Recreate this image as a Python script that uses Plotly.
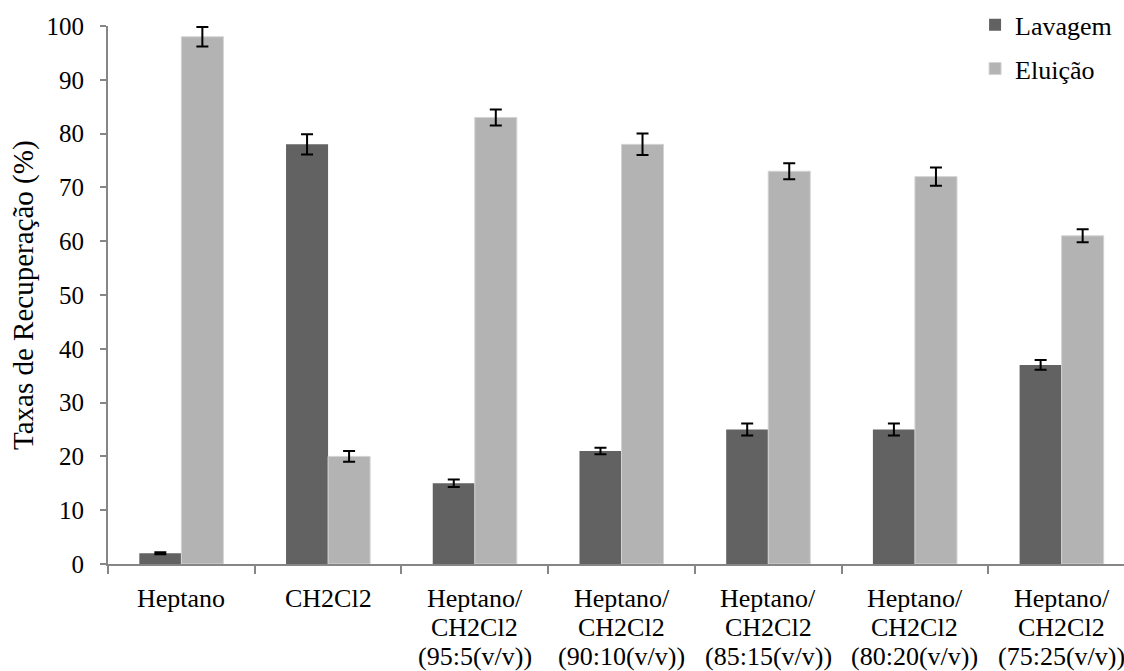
import plotly.graph_objects as go

# Category names, each split into the lines shown under the axis
label_lines = [
    ["Heptano"],
    ["CH2Cl2"],
    ["Heptano/", "CH2Cl2", "(95:5(v/v))"],
    ["Heptano/", "CH2Cl2", "(90:10(v/v))"],
    ["Heptano/", "CH2Cl2", "(85:15(v/v))"],
    ["Heptano/", "CH2Cl2", "(80:20(v/v))"],
    ["Heptano/", "CH2Cl2", "(75:25(v/v))"],
]
categories = [" ".join(lines) for lines in label_lines]

lavagem = [2, 78, 15, 21, 25, 25, 37]
lavagem_err = [0.2, 1.9, 0.7, 0.6, 1.1, 1.1, 0.9]
eluicao = [98, 20, 83, 78, 73, 72, 61]
eluicao_err = [1.8, 1.0, 1.5, 2.0, 1.5, 1.7, 1.2]

FONT = "'Liberation Serif', 'Times New Roman', Times, serif"
AXIS_GREY = "#868686"
W, H = 1124, 671
M_L, M_R, M_T, M_B = 108, 0, 26, 107

fig = go.Figure()
fig.add_trace(go.Bar(
    name="Lavagem", x=categories, y=lavagem, legendgroup="a",
    marker=dict(color="#626262", line=dict(width=0)),
    error_y=dict(type="data", array=lavagem_err, color="black", thickness=2, width=6),
))
fig.add_trace(go.Bar(
    name="Eluição", x=categories, y=eluicao, legendgroup="b",
    marker=dict(color="#b3b3b3", line=dict(color="#d3d3d3", width=1)),
    error_y=dict(type="data", array=eluicao_err, color="black", thickness=2, width=6),
))

# Multi-line category labels below the x axis, tighter line spacing than <br>
LINE_PX = 29
first_line_offset = 34  # pixels below the axis line to the centre of line one
annotations = []
for cat, lines in zip(categories, label_lines):
    for i, text in enumerate(lines):
        annotations.append(dict(
            x=cat, xref="x", y=0, yref="paper",
            text=text, showarrow=False,
            xanchor="center", yanchor="middle",
            yshift=-(first_line_offset + i * LINE_PX),
            font=dict(family=FONT, size=26, color="black"),
        ))

# Y axis title
annotations.append(dict(
    x=0, xref="paper", y=0.5, yref="paper",
    text="Taxas de Recuperação (%)", showarrow=False, textangle=-90,
    xanchor="center", yanchor="middle", xshift=-(M_L - 23),
    font=dict(family=FONT, size=29, color="black"),
))

fig.update_layout(
    width=W, height=H,
    barmode="group", bargap=0.427, bargroupgap=0,
    plot_bgcolor="white", paper_bgcolor="white",
    margin=dict(l=M_L, r=M_R, t=M_T, b=M_B, autoexpand=False),
    font=dict(family=FONT, size=26, color="black"),
    legend=dict(
        x=0.8675, xref="container", y=0.998, yref="container",
        xanchor="left", yanchor="top",
        font=dict(family=FONT, size=26), itemwidth=30,
        tracegroupgap=7, bgcolor="rgba(0,0,0,0)",
        traceorder="grouped",
    ),
    showlegend=True,
    annotations=annotations,
)
fig.update_xaxes(
    range=[-0.5, 6.425],
    showline=True, linecolor=AXIS_GREY, linewidth=2,
    ticks="outside", tickson="boundaries", ticklen=8, tickcolor=AXIS_GREY, tickwidth=2,
    showticklabels=False,
    showgrid=False,
)
fig.update_yaxes(
    range=[0, 100], dtick=10,
    showline=True, linecolor=AXIS_GREY, linewidth=2,
    ticks="outside", ticklen=6, tickcolor=AXIS_GREY, tickwidth=2,
    tickfont=dict(family=FONT, size=25, color="black"),
    ticklabelstandoff=11,
    showgrid=False, zeroline=False,
)

fig.write_html("out.html")
